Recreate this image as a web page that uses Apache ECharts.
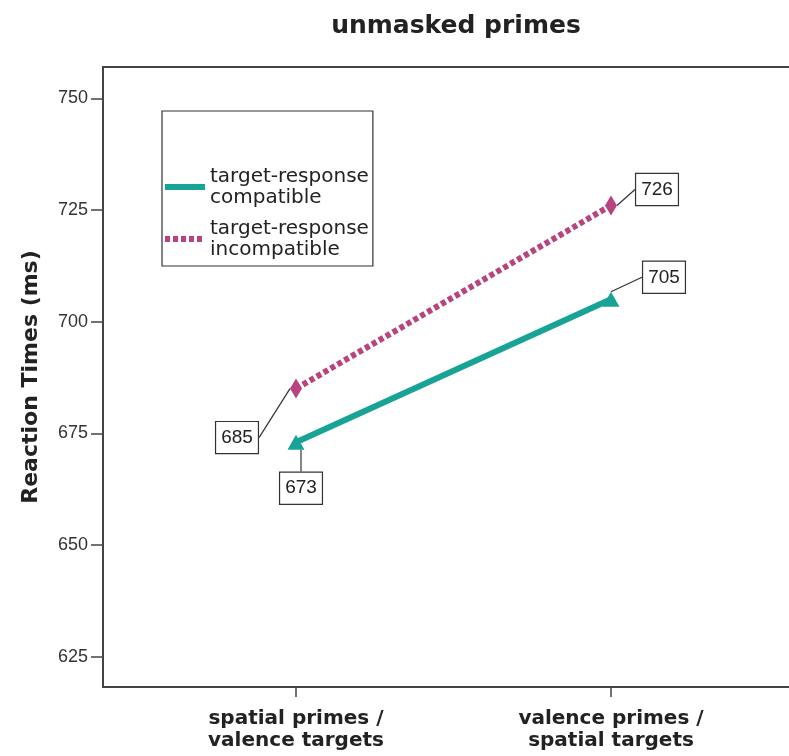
<!DOCTYPE html>
<html>
<head>
<meta charset="utf-8">
<script src="https://cdn.jsdelivr.net/npm/echarts@6/dist/echarts.min.js"></script>
<style>html,body{margin:0;padding:0;background:#fff}#c{width:789px;height:756px}</style>
</head>
<body>
<div id="c"></div>
<script>
var categories = ['spatial primes /\nvalence targets', 'valence primes /\nspatial targets'];
var compatible = [673, 705];
var incompatible = [685, 726];
var yTicks = [625, 650, 675, 700, 725, 750];
var seriesNames = ['target-response\ncompatible', 'target-response\nincompatible'];

var TEAL = '#17a497';
var PINK = '#b8437f';
var FONT = '"Liberation Sans", Arial, sans-serif';
var WIDE = '"DejaVu Sans", sans-serif';
var NARROW = '"Liberation Sans Narrow", "Liberation Sans", Arial, sans-serif';

function toPoints(arr) { return arr.map(function (v, i) { return [i, v]; }); }

var compOffsets = [[5, 46], [53, -22]];
var incompOffsets = [[-59, 49], [46, -16]];

var labelBox = {
  show: true, position: 'inside',
  formatter: function (p) { return Math.round(p.value[1]); },
  backgroundColor: '#fff', borderColor: '#333', borderWidth: 1.2,
  padding: [7, 5, 5, 5], color: '#222', fontSize: 19, fontFamily: FONT
};

var chart = echarts.init(document.getElementById('c'), null, { renderer: 'canvas' });
chart.setOption({
  backgroundColor: '#fff',
  animation: false,
  title: {
    text: 'unmasked primes', left: 451, top: 9, textAlign: 'center',
    textStyle: { fontFamily: WIDE, fontSize: 25, fontWeight: 'bold', color: '#222' }
  },
  grid: { left: 103, top: 67, right: 0, bottom: 69 },
  legend: {
    orient: 'vertical', left: 162, top: 111,
    padding: [55, 4, 6, 0],
    borderColor: '#333', borderWidth: 1.2,
    itemWidth: 40, itemHeight: 6, itemGap: 10,
    itemStyle: { opacity: 0 },
    lineStyle: { width: 6 },
    textStyle: { fontFamily: WIDE, fontSize: 20, lineHeight: 21, color: '#222' },
    data: seriesNames
  },
  xAxis: [{
    type: 'value', min: -0.6127, max: 1.5651,
    axisLine: { show: true, onZero: false, lineStyle: { color: '#444', width: 2 } },
    axisTick: { show: true, customValues: [0, 1], length: 10, lineStyle: { color: '#444', width: 1.5 } },
    axisLabel: {
      customValues: [0, 1], margin: 21,
      formatter: function (v) { return categories[Math.round(v)]; },
      fontFamily: WIDE, fontSize: 20, fontWeight: 'bold', color: '#222', lineHeight: 22
    },
    splitLine: { show: false }
  }, {
    type: 'value', position: 'top', min: -0.6127, max: 1.5651,
    axisLine: { show: true, onZero: false, lineStyle: { color: '#444', width: 2 } },
    axisTick: { show: false }, axisLabel: { show: false }, splitLine: { show: false }
  }],
  yAxis: {
    type: 'value', min: 618.2, max: 757,
    name: 'Reaction Times (ms)', nameLocation: 'middle', nameGap: 61,
    nameTextStyle: { fontFamily: WIDE, fontSize: 22, fontWeight: 'bold', color: '#222' },
    axisLine: { show: true, onZero: false, lineStyle: { color: '#444', width: 2 } },
    axisTick: { show: true, customValues: yTicks, length: 12, lineStyle: { color: '#444', width: 1.5 } },
    axisLabel: { customValues: yTicks, margin: 15, fontFamily: NARROW, fontSize: 18, color: '#333' },
    splitLine: { show: false }
  },
  series: [
    {
      name: seriesNames[0], type: 'line', data: toPoints(compatible),
      symbol: 'triangle', symbolSize: [17, 15],
      lineStyle: { color: TEAL, width: 6 }, itemStyle: { color: TEAL },
      label: labelBox,
      labelLine: { show: true, lineStyle: { color: '#333', width: 1.2 } },
      labelLayout: function (p) { var o = compOffsets[p.dataIndex]; return { dx: o[0], dy: o[1] }; },
      z: 3
    },
    {
      name: seriesNames[1], type: 'line', data: toPoints(incompatible),
      symbol: 'diamond', symbolSize: [12, 20],
      lineStyle: { color: PINK, width: 6, type: [5, 3] }, itemStyle: { color: PINK },
      label: labelBox,
      labelLine: { show: true, lineStyle: { color: '#333', width: 1.2 } },
      labelLayout: function (p) { var o = incompOffsets[p.dataIndex]; return { dx: o[0], dy: o[1] }; },
      z: 3
    }
  ]
});
</script>
</body>
</html>
